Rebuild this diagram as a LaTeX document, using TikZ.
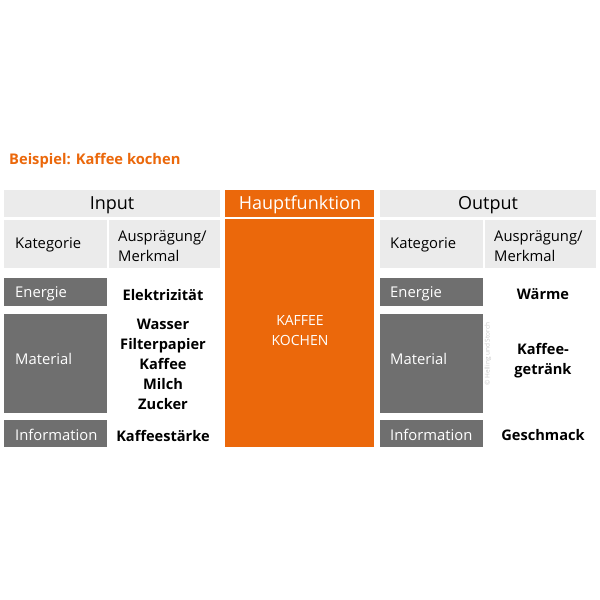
\documentclass[tikz,border=0pt]{standalone}
\usepackage{fontspec}
\setmainfont{Open Sans}
\definecolor{orng}{HTML}{EB680B}
\definecolor{lgray}{HTML}{EBEBEB}
\definecolor{dgray}{HTML}{6F6F6F}
\definecolor{cgray}{HTML}{C8C8C8}
\begin{document}
\begin{tikzpicture}[x=1pt,y=-1pt,
  box/.style={anchor=north west,inner sep=0pt,outer sep=0pt,draw=none},
  light/.style={box,fill=lgray},
  dark/.style={box,fill=dgray},
  hdr/.style={inner sep=0pt,font=\fontsize{18}{20}\selectfont},
  cat/.style={anchor=west,inner sep=0pt,font=\fontsize{14.8}{20}\selectfont,align=left},
  catw/.style={cat,text=white},
  val/.style={inner sep=0pt,font=\fontsize{14.6}{20}\bfseries\selectfont,align=center}]
\useasboundingbox (0,0) rectangle (600,600);
\fill[white] (0,0) rectangle (600,600);
\node[anchor=west,inner sep=0pt,text=orng,font=\fontsize{14.7}{16}\bfseries\selectfont] (title) at (9,161) {Beispiel: Kaffee kochen};
% Input
\node[light,minimum width=216pt,minimum height=27pt] (inh) at (4,190) {};
\node[hdr] (inht) at (112,205) {Input};
\node[light,minimum width=103pt,minimum height=48pt] (ink) at (4,220) {};
\node[cat] (inkt) at (15,245) {Kategorie};
\node[light,minimum width=111pt,minimum height=48pt] (ina) at (109,220) {};
\node[cat] (inat) at (118,246) {Ausprägung/\\Merkmal};
\node[dark,minimum width=103pt,minimum height=28pt] (ine) at (4,278) {};
\node[catw] (inet) at (15,294) {Energie};
\node[dark,minimum width=103pt,minimum height=99pt] (inm) at (4,314) {};
\node[catw] (inmt) at (15,359) {Material};
\node[dark,minimum width=103pt,minimum height=27pt] (ini) at (4,420) {};
\node[catw] (init) at (15,435) {Information};
\node[val] (inev) at (163,295) {Elektrizität};
\node[val] (inmv) at (163,364) {Wasser\\Filterpapier\\Kaffee\\Milch\\Zucker};
\node[val] (iniv) at (163,436) {Kaffeestärke};
% Hauptfunktion
\node[box,fill=orng,minimum width=149pt,minimum height=27pt] (hfh) at (225,190) {};
\node[hdr,text=white] (hfht) at (300,205) {Hauptfunktion};
\node[box,fill=orng,minimum width=149pt,minimum height=228pt] (hfb) at (225,219) {};
\node[inner sep=0pt,text=white,align=center,font=\fontsize{14}{20}\selectfont] (hfbt) at (300,331) {KAFFEE\\KOCHEN};
% Output
\node[light,minimum width=216pt,minimum height=27pt] (outh) at (380,190) {};
\node[hdr] (outht) at (488,205) {Output};
\node[light,minimum width=103pt,minimum height=48pt] (outk) at (380,220) {};
\node[cat] (outkt) at (390,245) {Kategorie};
\node[light,minimum width=111pt,minimum height=48pt] (outa) at (485,220) {};
\node[cat] (outat) at (494,246) {Ausprägung/\\Merkmal};
\node[dark,minimum width=103pt,minimum height=28pt] (oute) at (380,278) {};
\node[catw] (outet) at (390,294) {Energie};
\node[dark,minimum width=103pt,minimum height=99pt] (outm) at (380,314) {};
\node[catw] (outmt) at (390,359) {Material};
\node[dark,minimum width=103pt,minimum height=27pt] (outi) at (380,420) {};
\node[catw] (outit) at (390,435) {Information};
\node[val] (outev) at (543,294) {Wärme};
\node[val] (outmv) at (543,361) {Kaffee-\\getränk};
\node[val] (outiv) at (543,435) {Geschmack};
\node[inner sep=0pt,text=cgray,rotate=90,font=\fontsize{6.5}{7}\selectfont] (copy) at (488,354) {© Helling und Storch};
\end{tikzpicture}
\end{document}
